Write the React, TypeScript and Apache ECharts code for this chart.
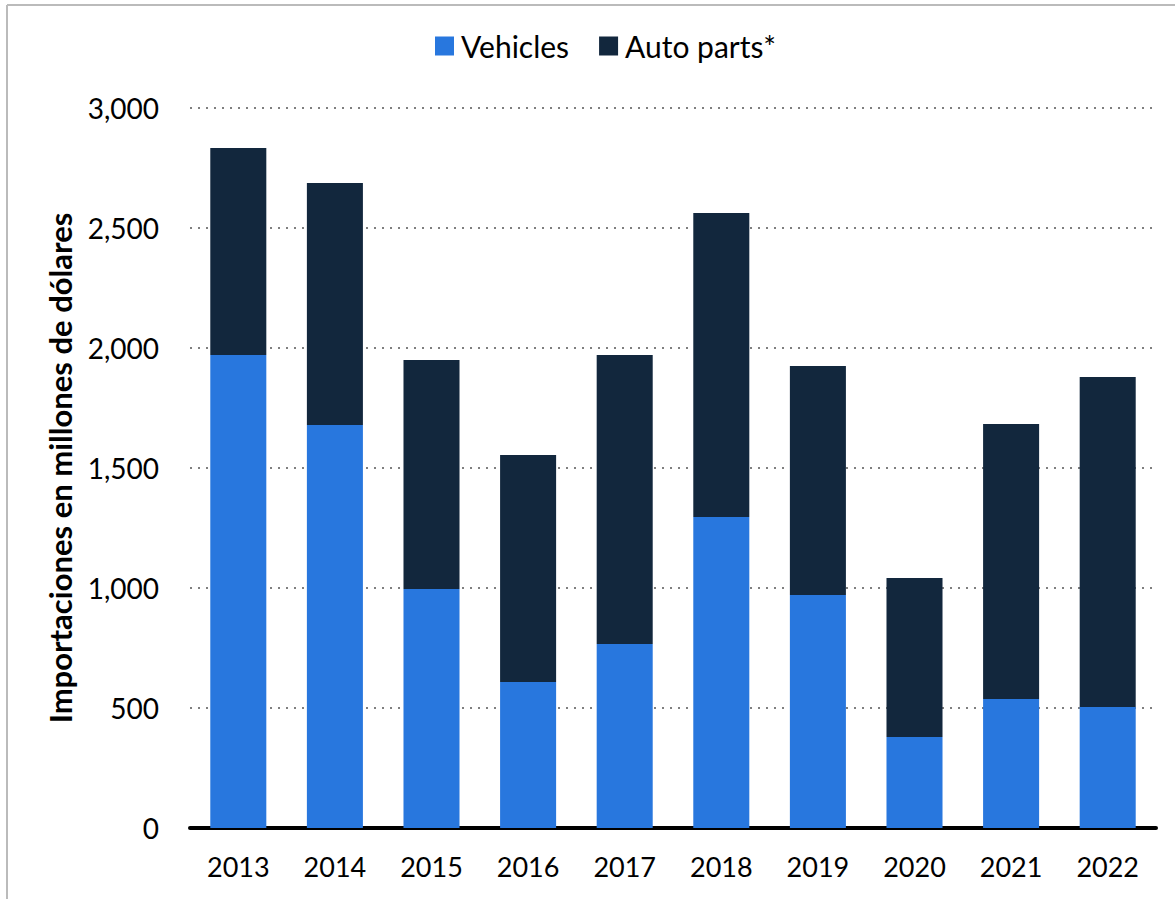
import React, { useEffect, useRef } from "react";
import * as echarts from "echarts";

const years = ["2013", "2014", "2015", "2016", "2017", "2018", "2019", "2020", "2021", "2022"];
const vehicles = [1971, 1679, 996, 608, 767, 1296, 971, 379, 538, 504];
const autoParts = [862, 1009, 954, 946, 1204, 1267, 954, 663, 1145, 1375];

const FONT = "Lato, 'Open Sans', sans-serif";

export default function App() {
  const ref = useRef<HTMLDivElement>(null);
  useEffect(() => {
    document.body.style.margin = "0";
    const chart = echarts.init(ref.current!, null, { renderer: "svg" });
    chart.setOption({
      animation: false,
      backgroundColor: "#fff",
      textStyle: { fontFamily: FONT },
      legend: {
        top: 26,
        left: 430,
        itemWidth: 19,
        itemHeight: 19,
        itemGap: 30,
        textStyle: { fontSize: 30, color: "#000", fontFamily: FONT, padding: [0, 0, 0, 2] },
        data: [
          { name: "Vehicles", icon: "rect" },
          { name: "Auto parts*", icon: "rect" },
        ],
      },
      grid: { left: 190, right: 19, top: 108, bottom: 71 },
      xAxis: {
        type: "category",
        data: years,
        axisLine: { lineStyle: { color: "#000", width: 4 } },
        axisTick: { show: false },
        axisLabel: { fontSize: 27, color: "#000", margin: 25, fontFamily: FONT },
      },
      yAxis: {
        type: "value",
        min: 0,
        max: 3000,
        interval: 500,
        name: "Importaciones en millones de dólares",
        nameLocation: "middle",
        nameGap: 115,
        nameTextStyle: { fontSize: 31, fontWeight: "bold", color: "#000", fontFamily: FONT },
        axisLine: { show: false },
        axisTick: { show: false },
        axisLabel: {
          fontSize: 28,
          color: "#000",
          margin: 31,
          fontFamily: FONT,
          formatter: (v: number) => v.toLocaleString("en-US"),
        },
        splitLine: { lineStyle: { color: "#555", type: [2, 6], width: 1.5 } },
      },
      series: [
        {
          name: "Vehicles",
          type: "bar",
          stack: "total",
          barWidth: "58%",
          data: vehicles,
          itemStyle: { color: "#2877DE" },
        },
        {
          name: "Auto parts*",
          type: "bar",
          stack: "total",
          data: autoParts,
          itemStyle: { color: "#12273D" },
        },
      ],
      graphic: [
        { type: "line", shape: { x1: 7, y1: 5, x2: 1175, y2: 5 }, style: { stroke: "#bbb", lineWidth: 2 } },
        { type: "line", shape: { x1: 7, y1: 5, x2: 7, y2: 899 }, style: { stroke: "#bbb", lineWidth: 2 } },
      ],
    });
    return () => chart.dispose();
  }, []);
  return <div ref={ref} style={{ width: 1175, height: 899 }} />;
}
